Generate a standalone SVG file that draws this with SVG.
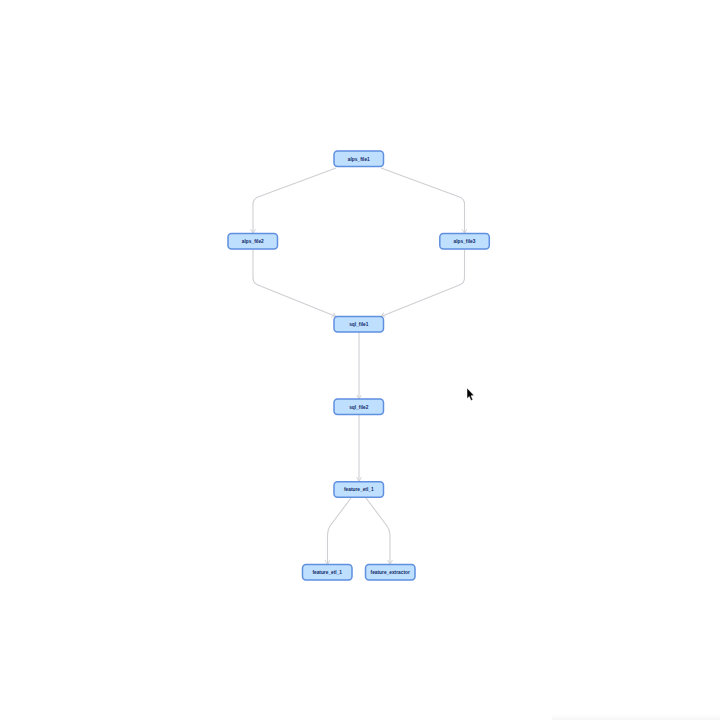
<svg xmlns="http://www.w3.org/2000/svg" width="720" height="720" viewBox="0 0 720 720">
<defs>
<style>
.n rect{fill:#bfdfff;stroke:#5f8fdf;stroke-width:1.5}
.n text{font:bold 4.8px "Liberation Sans",Arial,sans-serif;fill:#0f2a66;text-anchor:middle}
.e path{fill:none;stroke:#cfcfd4;stroke-width:1.1;marker-end:url(#a)}
</style>
<marker id="a" markerUnits="userSpaceOnUse" markerWidth="6" markerHeight="6" refX="4.5" refY="2.5" orient="auto"><path d="M0 0L4.500 2.500L0 5" fill="none" stroke="#cfcfd4" stroke-width=".9"/></marker>
<linearGradient id="sh" x1="0" y1="0" x2="0" y2="1"><stop offset="0" stop-color="#f6f6f6" stop-opacity="0"/><stop offset="1" stop-color="#f6f6f6"/></linearGradient>
</defs>
<rect width="720" height="720" fill="#fff"/>
<rect x="552" y="714" width="168" height="6" fill="url(#sh)"/>
<g class="e" id="connectors">
<path d="M336 168L258 197Q253 199 253 204V233.500"/>
<path d="M381 168L459.500 197Q464.500 199 464.500 204V233.500"/>
<path d="M253 249.500V278Q253 283 258 285L336 316.500"/>
<path d="M464.500 249.500V278Q464.500 283 459.500 285L381 316.500"/>
<path d="M359 332.500V399"/>
<path d="M359 415V481.500"/>
<path d="M351 498L330 526Q327.500 530 327.500 535V564.500"/>
<path d="M366 498L387 526Q390 530 390 535V564.500"/>
</g>
<g class="n" id="alps_file1"><rect x="334" y="151" width="49.500" height="15.500" rx="3.500"/><text x="358.800" y="160.500">alps_file1</text></g>
<g class="n" id="alps_file2"><rect x="228" y="233.500" width="49.500" height="15.500" rx="3.500"/><text x="252.800" y="243">alps_file2</text></g>
<g class="n" id="alps_file3"><rect x="439.800" y="233.500" width="49.500" height="15.500" rx="3.500"/><text x="464.500" y="243">alps_file3</text></g>
<g class="n" id="sql_file1"><rect x="334" y="316.500" width="49.500" height="15.500" rx="3.500"/><text x="358.800" y="326">sql_file1</text></g>
<g class="n" id="sql_file2"><rect x="334" y="399" width="49.500" height="15.500" rx="3.500"/><text x="358.800" y="408.500">sql_file2</text></g>
<g class="n" id="feature_etl_1"><rect x="334" y="481.800" width="49.500" height="15.500" rx="3.500"/><text x="358.800" y="491.300">feature_etl_1</text></g>
<g class="n" id="feature_etl_1b"><rect x="302.500" y="564.500" width="49.500" height="15.500" rx="3.500"/><text x="327.200" y="574">feature_etl_1</text></g>
<g class="n" id="feature_extractor"><rect x="365.500" y="564.500" width="49.500" height="15.500" rx="3.500"/><text x="390.200" y="574">feature_extractor</text></g>
<path id="cursor" d="M467 388V398.500L469.300 396.500L471 400.500L472.800 399.700L471 395.800L474 395.500Z" fill="#000" stroke="#fff" stroke-width=".5"/>
</svg>
